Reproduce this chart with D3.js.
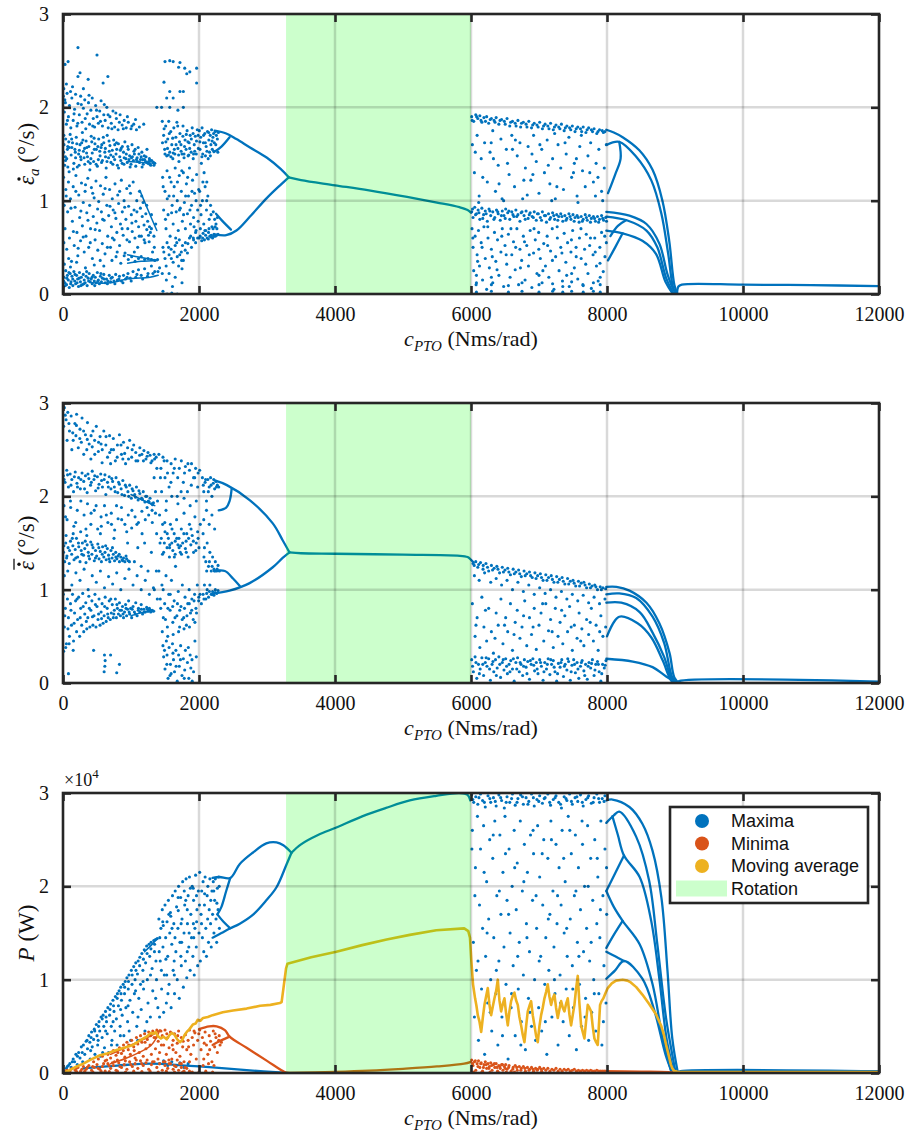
<!DOCTYPE html>
<html><head><meta charset="utf-8">
<script src="https://cdn.jsdelivr.net/npm/d3@7/dist/d3.min.js"></script>
<style>
body{margin:0;background:#fff;}
</style></head>
<body><svg id="fig" width="917" height="1132"></svg>
<script>
// ---- axes ----
const cTicks = [0,2000,4000,6000,8000,10000,12000];
const yTicks = [0,1,2,3];
const rotationRange = [3280, 6000];
const legendLabels = ["Maxima","Minima","Moving average","Rotation"];

// ---- panel 1: amplitude rate maxima ----
const rateScatter = [
[10,1.52],[25,1.38],[40,1.66],[55,1.45],[70,1.58],[90,1.31],[105,1.71],[120,1.49],[140,1.62],[160,1.40],[175,1.55],[195,1.68],[210,1.36],[230,1.50],[250,1.60],[265,1.44],[285,1.73],[300,1.53],[320,1.39],[340,1.64],[360,1.47],[380,1.58],[395,1.33],[415,1.69],[430,1.51],[450,1.42],[470,1.61],[490,1.55],[505,1.37],[525,1.66],[545,1.48],[560,1.57],[580,1.43],[600,1.62],[615,1.52],[635,1.35],[650,1.70],[670,1.46],[690,1.59],[705,1.41],[725,1.54],[745,1.65],[760,1.44],[780,1.50],[800,1.38],[815,1.61],[835,1.47],[855,1.56],[870,1.40],[890,1.52],[910,1.63],[925,1.45],[945,1.41],[960,1.55],[980,1.48],[1000,1.39],[1015,1.60],[1035,1.43],[1050,1.50],[1070,1.37],[1090,1.46],[1105,1.57],[1125,1.41],[1140,1.44],[1160,1.52],[1180,1.39],[1195,1.48],[1215,1.42],[1235,1.55],[1250,1.40],[1270,1.45],[1290,1.38],[1305,1.43],[1330,1.41],[1350,1.40],
[15,1.60],[35,1.47],[65,1.55],[85,1.63],[130,1.57],[185,1.46],[240,1.54],[275,1.62],[310,1.46],[350,1.57],[410,1.45],[460,1.55],[520,1.44],[570,1.60],[625,1.47],[680,1.53],[740,1.47],[790,1.55],[850,1.43],[900,1.46],[970,1.44],[1020,1.47],[1080,1.44],[1150,1.47],[1200,1.44],[1260,1.42],
[5,2.12],[20,1.95],[35,2.05],[50,1.82],[60,2.15],[80,1.9],[95,2.02],[115,1.78],[130,2.1],[150,1.86],[170,1.98],[185,2.14],[205,1.8],[220,2.04],[240,1.92],[260,2.12],[280,1.84],[300,1.99],[320,2.08],[335,1.77],[355,1.93],[375,2.05],[390,1.82],[410,1.97],[430,2.1],[445,1.88],[465,1.79],[480,2.02],[500,1.9],[520,1.83],[540,1.96],[560,2.07],[580,1.8],[600,1.92],[620,1.86],[645,2.0],[665,1.78],[690,1.9],[710,1.83],[735,1.96],[760,1.79],[785,1.88],[810,1.76],[840,1.92],[870,1.81],[900,1.86],[930,1.78],[960,1.84],[1000,1.77],[1040,1.82],[1080,1.76],
[220,2.64],[500,2.56],[75,2.49],[30,2.46],[250,2.37],[220,2.33],[660,2.33],[590,2.26],[370,2.3],[50,2.25],[12,2.2],[140,2.22],[300,2.2],
[1500,2.49],[1570,2.5],[1620,2.49],[1720,2.48],[1700,2.43],[1790,2.42],[1865,2.38],[1965,2.42],[1820,2.36],[1485,2.27],[1965,2.26],[1570,2.17],[1720,2.17],[1770,2.17],[1525,2.1],[1620,2.1],[1690,1.97],[1770,2.0],[1450,2.0],[1380,2.0],[1570,2.0],
[8,1.25],[18,0.95],[30,0.7],[42,1.12],[55,0.48],[68,0.88],[80,1.2],[95,0.6],[110,1.02],[125,0.35],[138,0.78],[150,1.15],[165,0.52],[178,0.93],[190,1.27],[205,0.66],[218,0.41],[232,1.06],[245,0.82],[258,0.57],[272,1.19],[285,0.73],[298,0.98],[312,0.45],[325,1.1],[338,0.62],[350,0.87],[365,1.24],[378,0.5],[392,0.95],[405,0.7],[418,1.14],[432,0.38],[445,0.83],[458,1.03],[472,0.58],[485,1.21],[498,0.76],[512,0.47],[525,0.99],[538,0.68],[552,1.16],[565,0.88],[578,0.54],[592,1.07],[605,0.79],[618,0.43],[632,1.25],[645,0.95],[658,0.62],[672,0.84],[685,1.12],[698,0.5],[712,0.72],[725,1.02],[738,0.9],[752,0.58],[765,1.18],[778,0.81],[792,0.66],[805,1.06],[818,0.97],[832,0.52],[845,0.75],[858,1.22],[872,0.88],[885,0.63],[898,1.0],[912,0.44],[925,0.8],[938,1.13],[952,0.7],[965,0.94],[978,0.56],[992,1.08],[1005,0.85],[1018,0.67],[1032,1.2],[1045,0.9],[1058,0.6],[1072,0.78],[1085,1.0],[1098,0.5],[1112,0.72],[1125,1.1],[1138,0.92],[1152,0.62],[1165,0.83],[1178,0.98],[1192,0.74],[1205,0.55],[1218,0.86],[1232,0.69],[1245,0.78],[1258,0.63],[1272,0.72],[1285,0.66],[1300,0.7],
[720,0.36],[780,0.4],[850,0.33],[900,0.41],[960,0.37],[1010,0.4],[1060,0.35],[1110,0.38],[1150,0.4],[1200,0.37],[1250,0.38],[1300,0.37],[1350,0.36],[1390,0.37],
[5,0.08],[15,0.18],[28,0.12],[40,0.25],[52,0.1],[65,0.2],[78,0.15],[92,0.07],[105,0.22],[118,0.13],[132,0.19],[145,0.09],[160,0.24],[172,0.14],[186,0.11],[200,0.2],[215,0.16],[228,0.08],[242,0.23],[256,0.13],[270,0.18],[284,0.1],[298,0.21],[312,0.15],[326,0.12],[340,0.19],[355,0.09],[370,0.17],[385,0.22],[400,0.13],[415,0.16],[430,0.11],[445,0.2],[460,0.14],[475,0.18],[490,0.12],[505,0.23],[520,0.15],[535,0.11],[550,0.19],[565,0.13],[580,0.17],[600,0.21],[620,0.12],[640,0.16],[660,0.14],[680,0.2],[700,0.13],[725,0.18],[750,0.14],[775,0.21],[800,0.15],[830,0.19],[860,0.14],[890,0.2],[920,0.16],[955,0.22],[990,0.17],[1030,0.24],[1070,0.18],[1110,0.26],[1150,0.2],[1200,0.27],[1250,0.22],[1300,0.3],[1350,0.24],[1420,0.28],[1460,0.22],
[20,0.32],[110,0.29],[200,0.34],[330,0.28],[460,0.31],[600,0.3],
[1460,1.85],[1480,1.7],[1495,1.55],[1510,1.8],[1525,1.48],[1540,1.66],[1555,1.85],[1570,1.52],[1585,1.74],[1600,1.6],[1615,1.45],[1630,1.78],[1645,1.5],[1660,1.68],[1675,1.84],[1690,1.56],[1705,1.42],[1720,1.72],[1735,1.6],[1750,1.5],[1765,1.8],[1780,1.46],[1795,1.65],[1810,1.55],[1825,1.75],[1840,1.48],[1855,1.62],[1870,1.7],[1885,1.52],[1900,1.78],[1915,1.45],[1930,1.6],[1945,1.69],[1960,1.5],[1975,1.76],[1990,1.56],[1500,1.5],[1550,1.49],[1620,1.51],[1700,1.49],[1780,1.5],[1850,1.49],[1920,1.5],
[1465,1.25],[1480,0.9],[1500,1.1],[1515,0.7],[1530,1.32],[1545,0.85],[1560,1.05],[1575,0.62],[1590,1.2],[1605,0.95],[1620,0.75],[1635,1.15],[1650,1.35],[1665,0.88],[1680,1.0],[1695,0.68],[1710,1.27],[1725,0.92],[1740,1.1],[1755,0.78],[1770,1.3],[1785,0.98],[1800,0.7],[1815,1.18],[1830,0.86],[1845,1.05],[1860,1.35],[1875,0.75],[1890,0.95],[1905,1.22],[1920,0.82],[1935,1.08],[1950,0.66],[1965,1.28],[1980,0.9],[1995,1.12],
[1470,0.5],[1500,0.38],[1530,0.55],[1560,0.42],[1590,0.48],[1620,0.34],[1650,0.52],[1680,0.4],[1710,0.58],[1740,0.45],[1770,0.36],[1800,0.55],[1830,0.44],[1860,0.6],[1890,0.5],[1920,0.58],[1950,0.55],[1980,0.6],
[1470,0.03],[1530,0.0],[1600,0.01],[1680,0.0],[1750,0.12],[1750,0.27],[1745,0.36],[1520,0.15],[1560,0.22],[1610,0.08],[1650,0.18],[1700,0.3],
[2005,1.75],[2015,1.55],[2025,1.68],[2035,1.4],[2045,1.78],[2055,1.5],[2065,1.62],[2075,1.3],[2085,1.72],[2095,1.48],[2105,1.58],[2115,1.2],[2125,1.74],[2135,1.45],[2145,1.65],[2155,1.52],[2165,1.7],[2175,1.6],[2185,1.76],[2195,1.55],[2205,1.68],[2215,1.72],[2225,1.62],[2240,1.74],[2255,1.7],[2270,1.66],[2285,1.73],
[2010,1.1],[2030,0.85],[2050,1.0],[2070,0.75],[2090,1.15],[2110,0.9],[2130,1.05],[2150,0.8],[2170,0.95],[2190,0.72],[2210,0.88],[2230,0.8],[2250,0.75],[2270,0.82],
[2005,0.6],[2020,0.7],[2040,0.57],[2060,0.65],[2080,0.58],[2100,0.68],[2120,0.6],[2140,0.66],[2160,0.62],[2180,0.63],[2200,0.6],[2220,0.64],[2240,0.62],[2260,0.63],[2280,0.64],
[6010,1.9],[6040,1.85],[6070,1.92],[6100,1.88],[6130,1.91],[6160,1.84],[6190,1.89],[6230,1.9],[6260,1.83],[6300,1.88],[6340,1.86],[6370,1.89],[6410,1.82],[6450,1.87],[6490,1.85],[6530,1.88],[6570,1.8],[6610,1.85],[6650,1.83],[6690,1.86],[6730,1.79],[6770,1.84],[6810,1.82],[6850,1.85],[6890,1.78],[6930,1.83],[6970,1.81],[7010,1.84],[7050,1.77],[7090,1.82],[7130,1.8],[7170,1.83],[7210,1.76],[7250,1.81],[7290,1.79],[7330,1.82],[7370,1.75],[7410,1.8],[7450,1.78],[7490,1.8],[7530,1.74],[7570,1.79],[7610,1.77],[7650,1.79],[7690,1.73],[7730,1.78],[7770,1.76],[7810,1.77],[7850,1.72],[7890,1.76],[7930,1.75],[7970,1.74],
[6020,1.6],[6050,1.3],[6090,1.7],[6120,1.05],[6150,1.45],[6200,1.62],[6240,1.2],[6280,1.52],[6320,1.75],[6360,1.1],[6400,1.38],[6440,1.66],[6480,1.0],[6520,1.55],[6560,1.28],[6600,1.7],[6640,1.15],[6680,1.48],[6720,1.62],[6760,1.02],[6800,1.35],[6840,1.58],[6880,1.22],[6920,1.7],[6960,1.42],[7000,1.08],[7040,1.55],[7080,1.3],[7120,1.65],[7160,1.18],[7200,1.45],[7240,1.02],[7280,1.6],[7320,1.35],[7360,1.12],[7400,1.5],[7440,1.68],[7480,1.25],[7520,1.4],[7560,1.05],[7600,1.58],[7640,1.32],[7680,1.15],[7720,1.48],[7760,1.62],[7800,1.2],[7840,1.4],[7880,1.55],[7920,1.1],[7960,1.35],[7990,1.6],[6330,1.45],[6610,1.55],[6910,1.28],[7230,1.72],[7550,1.45],[7830,1.05],
[6010,0.88],[6030,0.82],[6055,0.93],[6080,0.86],[6105,0.9],[6130,0.8],[6160,0.92],[6185,0.85],[6210,0.89],[6240,0.78],[6265,0.91],[6290,0.84],[6320,0.88],[6350,0.82],[6375,0.9],[6400,0.86],[6430,0.79],[6460,0.89],[6485,0.84],[6510,0.91],[6540,0.87],[6570,0.8],[6600,0.88],[6630,0.83],[6660,0.9],[6690,0.85],[6720,0.78],[6750,0.88],[6780,0.84],[6810,0.89],[6840,0.81],[6870,0.87],[6900,0.83],[6930,0.88],[6960,0.79],[6990,0.86],[7020,0.82],[7050,0.88],[7080,0.84],[7110,0.77],[7140,0.86],[7170,0.82],[7200,0.87],[7230,0.8],[7260,0.85],[7290,0.83],[7320,0.86],[7350,0.78],[7380,0.84],[7410,0.81],[7440,0.86],[7470,0.8],[7500,0.85],[7530,0.82],[7560,0.84],[7590,0.77],[7620,0.83],[7650,0.8],[7680,0.85],[7710,0.79],[7740,0.84],[7770,0.81],[7800,0.83],[7830,0.78],[7860,0.83],[7890,0.8],[7920,0.84],[7950,0.79],[7980,0.82],
[6015,0.7],[6030,0.5],[6040,0.25],[6060,0.62],[6075,0.1],[6090,0.42],[6110,0.68],[6125,0.3],[6150,0.55],[6170,0.15],[6190,0.72],[6210,0.38],[6230,0.05],[6250,0.6],[6270,0.28],[6300,0.48],[6320,0.12],[6345,0.66],[6365,0.35],[6390,0.58],[6410,0.2],[6440,0.45],[6460,0.7],[6480,0.08],[6500,0.52],[6525,0.32],[6550,0.64],[6575,0.18],[6600,0.42],[6625,0.56],[6650,0.26],[6675,0.7],[6700,0.1],[6720,0.48],[6745,0.36],[6770,0.62],[6795,0.15],[6820,0.52],[6845,0.3],[6870,0.68],[6895,0.07],[6920,0.44],[6945,0.58],[6970,0.22],[6995,0.66],[7020,0.38],[7045,0.12],[7070,0.54],[7095,0.3],[7120,0.62],[7145,0.18],[7170,0.46],[7195,0.7],[7220,0.05],[7245,0.4],[7270,0.6],[7295,0.25],[7320,0.5],[7345,0.14],[7370,0.65],[7395,0.34],[7420,0.55],[7445,0.08],[7470,0.45],[7495,0.68],[7520,0.28],[7545,0.5],[7570,0.16],[7595,0.6],[7620,0.38],[7645,0.1],[7670,0.48],[7695,0.64],[7720,0.22],[7745,0.52],[7770,0.06],[7795,0.42],[7820,0.6],[7845,0.3],[7870,0.14],[7895,0.5],[7920,0.66],[7945,0.24],[7970,0.4],[7990,0.55],
[6080,0.02],[6080,0.12],[6080,0.2],[6300,0.03],[6300,0.1],[6300,0.18],[6550,0.02],[6550,0.09],[6750,0.03],[6750,0.12],[7000,0.02],[7000,0.1],[7000,0.2],[7200,0.03],[7200,0.11],[7350,0.02],[7350,0.08],[7480,0.03],[7480,0.13],[7480,0.22],[7650,0.02],[7650,0.09],[7800,0.03],[7800,0.12],[7900,0.02],[7900,0.1],[7900,0.18]
];
const rateScatterFill = [
[37,1.43],[93,1.57],[152,1.34],[203,1.61],[258,1.47],[317,1.56],[371,1.42],[423,1.63],[487,1.39],[541,1.53],[593,1.68],[647,1.42],[703,1.49],[761,1.6],[817,1.35],[873,1.58],[931,1.5],[987,1.36],[1043,1.53],[1097,1.42],[1163,1.36],[1221,1.47],[1283,1.43],[1337,1.38],[13,1.7],[71,1.36],[127,1.66],[181,1.52],[237,1.38],[293,1.65],[347,1.51],[401,1.4],[457,1.67],[513,1.58],[567,1.41],[623,1.56],[677,1.64],[733,1.39],[787,1.62],[843,1.54],[897,1.39],[953,1.58],[1007,1.46],[1061,1.55],[1117,1.5],[1173,1.44],[1229,1.41],[1277,1.39],
[27,2.08],[66,1.86],[111,2.17],[163,1.93],[217,1.83],[269,2.03],[327,1.88],[383,2.13],[437,1.8],[493,1.97],[551,1.85],[607,2.03],[663,1.92],[719,1.77],[777,1.94],[829,1.84],[887,1.77],[947,1.9],[1013,1.8],[1067,1.87],[1123,1.79],[1187,1.82],
[13,0.55],[47,1.05],[83,0.38],[117,0.92],[153,0.67],[189,1.1],[223,0.49],[263,0.89],[297,0.61],[331,1.17],[367,0.79],[401,0.55],[437,1.08],[473,0.69],[509,0.91],[547,0.36],[583,0.8],[619,1.13],[653,0.5],[691,0.94],[727,0.6],[763,0.87],[797,0.45],[833,1.1],[869,0.7],[907,0.93],[941,0.58],[977,1.16],[1013,0.76],[1049,0.45],[1087,0.88],[1121,0.62],[1157,1.05],[1193,0.58],[1231,0.95],[1267,0.56],[1301,0.85],[1337,0.62],[1363,0.75],[1343,0.5],[1317,0.45],
[9,0.14],[33,0.09],[57,0.17],[87,0.23],[113,0.11],[143,0.16],[177,0.21],[207,0.12],[239,0.17],[263,0.09],[307,0.11],[347,0.24],[377,0.14],[427,0.18],[467,0.09],[513,0.14],[557,0.22],[607,0.16],[653,0.11],[707,0.17],[763,0.11],[823,0.16],[881,0.12],[943,0.18],[1003,0.14],[1087,0.21],[1171,0.16],[1243,0.19],[1323,0.22],[1397,0.24],
[1463,1.62],[1487,1.77],[1513,1.63],[1537,1.56],[1563,1.72],[1587,1.47],[1613,1.67],[1637,1.55],[1663,1.6],[1687,1.8],[1713,1.63],[1737,1.53],[1763,1.69],[1787,1.58],[1813,1.71],[1837,1.63],[1863,1.56],[1887,1.66],[1913,1.72],[1937,1.53],[1963,1.64],[1987,1.7],
[1473,1.15],[1507,0.8],[1533,1.02],[1567,1.25],[1597,0.87],[1627,1.05],[1657,0.6],[1683,1.2],[1713,0.9],[1747,1.32],[1773,0.85],[1803,1.05],[1833,1.25],[1867,0.9],[1897,1.1],[1927,0.72],[1957,1.0],[1987,0.78],
[1483,0.45],[1517,0.3],[1553,0.5],[1593,0.38],[1633,0.45],[1673,0.55],[1717,0.42],[1757,0.52],[1797,0.47],[1837,0.54],[1877,0.62],[1917,0.6],[1957,0.68],
[2013,1.63],[2043,1.47],[2067,1.7],[2093,1.62],[2117,1.53],[2143,1.73],[2167,1.48],[2193,1.64],[2217,1.53],[2247,1.6],[2277,1.52],
[2023,0.95],[2057,1.2],[2087,0.68],[2113,1.0],[2147,0.7],[2177,0.85],[2207,0.7],[2237,0.72],[2263,0.7],
[2017,0.62],[2053,0.6],[2097,0.63],[2137,0.59],[2177,0.61],[2217,0.62],
[6017,1.86],[6083,1.9],[6147,1.86],[6213,1.85],[6283,1.87],[6353,1.84],[6427,1.86],[6503,1.82],[6583,1.84],[6663,1.8],[6743,1.83],[6823,1.79],[6907,1.81],[6987,1.79],[7067,1.8],[7147,1.77],[7227,1.79],[7307,1.77],[7387,1.78],[7467,1.76],[7547,1.77],[7627,1.74],[7707,1.76],[7787,1.74],[7867,1.74],[7947,1.73],
[6063,1.52],[6173,1.25],[6297,1.62],[6413,1.18],[6537,1.4],[6653,1.65],[6777,1.22],[6897,1.5],[7013,1.6],[7137,1.38],[7263,1.15],[7383,1.62],[7507,1.3],[7623,1.7],[7747,1.3],[7867,1.25],[6113,0.98],[6457,1.02],[6827,1.06],[7187,1.0],[7573,0.98],[7937,1.0],
[6023,0.91],[6067,0.85],[6117,0.87],[6173,0.81],[6223,0.86],[6277,0.89],[6337,0.8],[6393,0.88],[6447,0.84],[6503,0.81],[6557,0.89],[6617,0.85],[6673,0.83],[6737,0.87],[6797,0.8],[6857,0.85],[6917,0.82],[6977,0.86],[7037,0.79],[7097,0.84],[7157,0.8],[7217,0.84],[7277,0.79],[7337,0.83],[7397,0.79],[7457,0.83],[7517,0.78],[7577,0.82],[7637,0.78],[7697,0.82],[7757,0.77],[7817,0.81],[7877,0.77],[7937,0.81],[7993,0.78],
[6027,0.6],[6097,0.35],[6163,0.5],[6247,0.72],[6313,0.4],[6383,0.26],[6453,0.62],[6517,0.42],[6587,0.7],[6657,0.5],[6727,0.28],[6787,0.56],[6857,0.42],[6927,0.7],[6997,0.48],[7057,0.25],[7127,0.52],[7197,0.36],[7267,0.72],[7337,0.44],[7407,0.2],[7477,0.58],[7547,0.4],[7617,0.7],[7687,0.32],[7757,0.6],[7827,0.45],[7897,0.33],[7967,0.62]
];
const rateLines = [
[[3320,1.25],[3500,1.22],[4000,1.165],[4500,1.11],[5060,1.04],[5500,0.98],[5830,0.93],[5950,0.9],[6000,0.87]],
[[2230,1.75],[2400,1.72],[2550,1.66],[2750,1.57],[3000,1.46],[3200,1.34],[3320,1.25]],
[[2230,0.64],[2400,0.63],[2550,0.68],[2750,0.83],[3000,1.03],[3200,1.17],[3320,1.25]],
[[2220,1.52],[2330,1.58],[2450,1.68]],
[[2250,0.86],[2360,0.77],[2470,0.69]],
[[7990,1.76],[8100,1.73],[8230,1.68],[8475,1.54],[8670,1.33],[8815,1.0],[8915,0.57],[8990,0.1],[9035,0.0]],
[[8000,1.6],[8180,1.63],[8430,1.47],[8650,1.22],[8800,0.86],[8900,0.43],[8980,0.05],[9030,0.0]],
[[8015,1.08],[8120,1.28],[8200,1.45],[8180,1.63]],
[[7990,0.88],[8330,0.84],[8580,0.75],[8770,0.54],[8890,0.21],[8990,0.03],[9030,0.0]],
[[7990,0.83],[8290,0.79],[8580,0.68],[8740,0.5],[8870,0.17],[8980,0.0]],
[[7990,0.68],[8230,0.65],[8520,0.57],[8720,0.43],[8860,0.13],[8970,0.0]],
[[8015,0.36],[8120,0.5],[8230,0.65]],
[[8050,0.62],[8160,0.73],[8280,0.79]],
[[9030,0.0],[9050,0.08],[9100,0.1],[10000,0.1],[11000,0.095],[12000,0.085]]
];
const rateChaosLines = [
[[420,0.12],[700,0.12],[940,0.16],[1280,0.18],[1400,0.2]],
[[950,0.42],[1150,0.39],[1390,0.36]],
[[950,0.33],[1150,0.35],[1390,0.36]],
[[950,1.42],[1150,1.41],[1350,1.4]],
[[1130,1.11],[1250,0.9],[1380,0.68]]
];

// ---- panel 2: mean rate maxima ----
const meanRateScatter = [
[20,2.95],[45,2.82],[70,2.9],[95,2.7],[120,2.86],[150,2.6],[175,2.78],[200,2.88],[225,2.52],[250,2.72],[280,2.84],[305,2.45],[330,2.66],[360,2.79],[385,2.56],[410,2.4],[440,2.7],[465,2.6],[490,2.75],[520,2.48],[545,2.64],[575,2.36],[600,2.7],[630,2.55],[655,2.42],[685,2.65],[710,2.5],[740,2.62],[770,2.38],[800,2.55],[830,2.66],[860,2.45],[890,2.58],[920,2.35],[950,2.52],[980,2.6],[1010,2.42],[1040,2.55],[1070,2.47],[1100,2.38],[1130,2.52],[1160,2.45],[1190,2.49],[1220,2.4],[1250,2.47],[1280,2.44],[1310,2.38],[1340,2.45],[1370,2.42],[10,2.75],[60,2.6],[130,2.5],[190,2.65],[270,2.58],[350,2.5],[430,2.53],[560,2.56],[700,2.35],[880,2.4],
[5,2.22],[30,2.15],[55,2.28],[80,2.1],[105,2.24],[130,2.18],[155,2.05],[180,2.26],[205,2.14],[230,2.2],[255,2.08],[280,2.25],[305,2.16],[330,2.22],[355,2.04],[380,2.19],[405,2.12],[430,2.27],[455,2.18],[480,2.06],[505,2.21],[530,2.13],[555,2.24],[580,2.1],[605,2.18],[630,2.02],[655,2.15],[680,2.21],[705,2.08],[730,2.16],[755,2.1],[780,2.2],[805,2.04],[830,2.13],[855,2.08],[880,2.17],[905,2.01],[930,2.1],[955,2.05],[980,2.12],[1005,1.98],[1030,2.06],[1055,2.02],[1080,2.1],[1105,1.96],[1130,2.03],[1155,1.98],[1180,2.05],[1205,1.94],[1230,2.0],[1255,1.95],[1280,1.98],[1305,1.92],[1330,1.93],
[15,1.9],[60,1.75],[110,1.95],[160,1.68],[210,1.85],[260,1.62],[310,1.8],[360,1.92],[410,1.7],[460,1.85],[510,1.65],[560,1.78],[610,1.9],[660,1.72],[710,1.82],[760,1.64],[810,1.76],[860,1.88],[910,1.7],[960,1.8],[1010,1.66],[1060,1.78],[1110,1.72],[1160,1.84],[1210,1.75],[1260,1.8],[1310,1.85],[1360,1.82],[1340,2.2],[1360,2.05],[1380,2.3],[1390,1.95],
[8,1.4],[25,1.3],[40,1.5],[58,1.36],[75,1.45],[92,1.28],[110,1.52],[128,1.38],[145,1.47],[162,1.32],[180,1.43],[198,1.55],[215,1.35],[232,1.46],[250,1.3],[268,1.42],[285,1.5],[302,1.37],[320,1.44],[338,1.29],[355,1.48],[372,1.4],[390,1.33],[408,1.51],[425,1.38],[442,1.45],[460,1.31],[478,1.42],[495,1.36],[512,1.49],[530,1.33],[548,1.41],[565,1.3],[582,1.46],[600,1.35],[618,1.4],[635,1.32],[652,1.44],[670,1.37],[688,1.3],[705,1.42],[722,1.34],[740,1.38],[758,1.31],[775,1.4],[792,1.33],[810,1.36],[830,1.3],[850,1.35],[870,1.32],[890,1.34],[910,1.3],[935,1.33],[960,1.31],
[20,1.15],[70,1.2],[130,1.05],[190,1.18],[250,1.1],[310,1.22],[370,1.0],[430,1.15],[490,1.08],[550,1.2],[610,1.02],[670,1.14],[730,1.06],[790,1.18],[850,1.0],[910,1.12],[970,1.22],[1030,1.05],[1090,1.15],[1150,1.0],[1210,1.1],[1270,0.95],[1330,1.02],[45,1.58],[150,1.6],[350,1.58],[550,1.6],[750,1.55],[950,1.5],[1100,1.45],[1200,1.5],[1300,1.4],[1050,1.3],[1150,1.25],[1250,1.2],
[5,0.95],[20,0.6],[35,0.8],[50,0.42],[65,0.9],[80,0.7],[95,0.5],[110,0.85],[125,0.62],[140,0.95],[155,0.45],[170,0.75],[185,0.88],[200,0.55],[215,0.68],[230,0.92],[245,0.5],[260,0.8],[275,0.62],[290,0.96],[305,0.55],[320,0.74],[335,0.86],[350,0.58],[365,0.7],[380,0.93],[395,0.6],[410,0.78],[425,0.88],[440,0.62],[455,0.72],[470,0.95],[485,0.6],[500,0.82],[515,0.68],[530,0.9],[545,0.62],[560,0.76],[575,0.85],[590,0.64],[605,0.72],[620,0.92],[635,0.66],[650,0.8],[665,0.7],[680,0.88],[695,0.68],[710,0.75],[725,0.84],[740,0.7],[755,0.78],[770,0.9],[785,0.7],[800,0.8],[815,0.74],[830,0.86],[845,0.72],[860,0.78],[875,0.82],[890,0.7],[905,0.76],[920,0.84],[935,0.72],[950,0.79],[965,0.88],[980,0.74],[995,0.8],[1010,0.7],[1030,0.82],[1050,0.76],[1070,0.86],[1090,0.72],[1110,0.8],[1130,0.76],[1150,0.84],[1170,0.74],[1190,0.79],[1210,0.76],[1230,0.81],[1250,0.77],[1270,0.8],[1290,0.76],[1310,0.78],[1330,0.77],
[10,0.34],[40,0.38],[90,0.42],[150,0.35],[610,0.3],[615,0.18],[605,0.12],[620,0.24],[790,0.11],[80,0.1],[830,0.2],[450,0.35],[700,0.3],
[1410,2.45],[1440,2.3],[1470,2.42],[1500,2.2],[1530,2.38],[1560,2.1],[1590,2.35],[1620,2.25],[1650,2.4],[1680,2.0],[1710,2.3],[1740,2.38],[1770,2.15],[1800,2.32],[1830,2.05],[1860,2.28],[1890,2.35],[1920,2.2],[1950,2.3],[1980,2.1],[2010,2.28],[1450,2.05],[1520,1.95],[1600,2.0],[1690,1.92],[1780,1.98],[1870,1.9],[1960,1.95],
[1420,1.8],[1445,1.55],[1465,1.7],[1480,1.4],[1500,1.62],[1515,1.85],[1530,1.45],[1550,1.55],[1565,1.35],[1580,1.7],[1600,1.5],[1615,1.42],[1635,1.6],[1650,1.38],[1670,1.75],[1690,1.48],[1705,1.55],[1725,1.4],[1740,1.65],[1760,1.5],[1780,1.82],[1800,1.44],[1820,1.6],[1840,1.35],[1860,1.7],[1880,1.48],[1900,1.58],[1920,1.4],[1940,1.78],[1960,1.5],[1980,1.62],[2000,1.45],[2020,1.7],[1490,1.5],[1570,1.48],[1650,1.52],[1730,1.47],[1810,1.52],
[1410,1.2],[1430,0.9],[1455,1.05],[1475,0.7],[1495,0.85],[1515,1.15],[1535,0.6],[1555,0.95],[1575,0.78],[1595,1.1],[1615,0.65],[1635,0.88],[1655,1.25],[1675,0.72],[1695,0.98],[1715,0.6],[1735,0.82],[1755,1.05],[1775,0.7],[1795,0.92],[1815,0.62],[1835,0.85],[1855,1.0],[1875,0.75],[1895,0.9],[1915,0.68],[1935,0.95],[1955,0.8],[1975,1.05],[1995,0.88],[2015,0.95],[2035,0.85],[1460,0.55],[1540,0.5],[1620,0.52],[1700,0.55],[1780,0.58],[1860,0.6],[1940,0.65],
[1470,0.4],[1480,0.28],[1500,0.15],[1520,0.45],[1530,0.3],[1545,0.05],[1560,0.38],[1580,0.2],[1590,0.1],[1610,0.42],[1625,0.25],[1640,0.12],[1660,0.35],[1680,0.02],[1700,0.3],[1710,0.18],[1730,0.4],[1750,0.08],[1770,0.26],[1790,0.14],[1800,0.35],[1830,0.22],[1850,0.05],[1870,0.3],[1880,0.16],[1900,0.02],[1920,0.12],[1940,0.45],[1960,0.28],
[2050,2.2],[2070,2.05],[2090,2.15],[2110,1.95],[2130,2.18],[2150,2.1],[2170,2.2],[2190,2.0],[2210,2.14],[2230,2.08],[2250,2.16],[2270,2.12],[2290,2.1],
[2060,1.6],[2080,1.45],[2100,1.3],[2120,1.5],[2140,1.25],[2160,1.4],[2180,1.2],[2200,1.35],[2220,1.22],[2240,1.3],[2260,1.2],[2280,1.26],[2300,1.2],
[2060,0.95],[2080,1.05],[2100,0.9],[2120,1.0],[2140,0.92],[2160,1.05],[2180,0.95],[2200,0.98],[2220,0.94],[2240,1.0],[2260,0.96],[2280,0.99],
[2070,1.75],[2110,1.85],[2150,1.7],[2190,1.8],[2230,1.65],
[6030,1.28],[6070,1.3],[6100,1.24],[6140,1.29],[6180,1.26],[6220,1.28],[6260,1.2],[6300,1.26],[6340,1.23],[6380,1.25],[6420,1.18],[6460,1.24],[6500,1.21],[6540,1.23],[6580,1.16],[6620,1.22],[6660,1.19],[6700,1.21],[6740,1.14],[6780,1.2],[6820,1.17],[6860,1.19],[6900,1.13],[6940,1.18],[6980,1.15],[7020,1.17],[7060,1.1],[7100,1.16],[7140,1.13],[7180,1.15],[7220,1.08],[7260,1.14],[7300,1.11],[7340,1.13],[7380,1.06],[7420,1.12],[7460,1.09],[7500,1.1],[7540,1.04],[7580,1.09],[7620,1.07],[7660,1.08],[7700,1.02],[7740,1.06],[7780,1.04],[7820,1.05],[7860,1.0],[7900,1.03],[7940,1.02],[7980,1.01],
[6050,1.15],[6120,1.1],[6200,1.18],[6290,1.08],[6370,1.12],[6450,1.05],[6530,1.1],[6610,1.0],[6690,1.08],[6770,0.98],[6850,1.05],[6930,0.95],[7010,1.02],[7090,0.96],[7170,1.0],[7250,0.92],[7330,0.98],[7410,0.9],[7490,0.95],[7570,0.88],[7650,0.94],[7730,0.86],[7810,0.92],[7890,0.85],[7970,0.9],
[6020,0.85],[6060,0.5],[6090,0.7],[6130,0.38],[6160,0.92],[6190,0.6],[6230,0.45],[6260,0.8],[6300,0.55],[6330,0.32],[6370,0.75],[6400,0.62],[6440,0.9],[6470,0.42],[6510,0.7],[6540,0.55],[6580,0.85],[6610,0.35],[6650,0.65],[6680,0.78],[6720,0.48],[6750,0.6],[6790,0.88],[6820,0.4],[6860,0.7],[6890,0.52],[6930,0.8],[6960,0.36],[7000,0.62],[7030,0.75],[7070,0.45],[7100,0.85],[7140,0.56],[7170,0.68],[7210,0.38],[7240,0.8],[7280,0.5],[7310,0.65],[7350,0.42],[7380,0.72],[7420,0.55],[7450,0.82],[7490,0.35],[7520,0.62],[7560,0.48],[7590,0.75],[7630,0.58],[7660,0.4],[7700,0.68],[7730,0.52],[7770,0.8],[7800,0.45],[7840,0.62],[7870,0.35],[7910,0.72],[7940,0.5],[7980,0.6],
[6010,0.25],[6035,0.12],[6060,0.28],[6085,0.05],[6110,0.2],[6135,0.15],[6160,0.27],[6185,0.08],[6210,0.22],[6235,0.18],[6260,0.26],[6285,0.03],[6310,0.2],[6335,0.12],[6360,0.25],[6385,0.16],[6410,0.28],[6435,0.06],[6460,0.22],[6485,0.14],[6510,0.26],[6535,0.1],[6560,0.2],[6585,0.24],[6610,0.15],[6635,0.02],[6660,0.22],[6685,0.27],[6710,0.12],[6735,0.2],[6760,0.08],[6785,0.25],[6810,0.17],[6835,0.23],[6860,0.04],[6885,0.2],[6910,0.26],[6935,0.13],[6960,0.22],[6985,0.1],[7010,0.25],[7035,0.18],[7060,0.03],[7085,0.22],[7110,0.15],[7135,0.26],[7160,0.09],[7185,0.2],[7210,0.24],[7235,0.12],[7260,0.02],[7285,0.21],[7310,0.17],[7335,0.25],[7360,0.07],[7385,0.2],[7410,0.14],[7435,0.23],[7460,0.03],[7485,0.19],[7510,0.25],[7535,0.11],[7560,0.22],[7585,0.05],[7610,0.18],[7635,0.24],[7660,0.13],[7685,0.2],[7710,0.04],[7735,0.22],[7760,0.16],[7785,0.25],[7810,0.08],[7835,0.2],[7860,0.23],[7885,0.12],[7910,0.02],[7935,0.2],[7960,0.16],[7985,0.24]
];
const meanRateScatterFill = [
[33,2.87],[87,2.78],[143,2.68],[197,2.76],[247,2.62],[303,2.7],[357,2.61],[413,2.65],[467,2.45],[523,2.58],[577,2.5],[633,2.64],[687,2.47],[743,2.5],[797,2.42],[853,2.55],[907,2.46],[963,2.4],[1017,2.5],[1073,2.38],[1127,2.44],[1183,2.38],[1237,2.43],[1293,2.36],[1347,2.4],
[17,2.18],[67,2.23],[117,2.12],[167,2.21],[213,2.1],[263,2.18],[317,2.08],[367,2.24],[417,2.15],[467,2.22],[517,2.09],[567,2.17],[617,2.23],[667,2.1],[717,2.19],[767,2.05],[817,2.15],[867,2.02],[917,2.12],[967,2.0],[1017,2.08],[1067,1.99],[1117,2.06],[1167,1.97],[1217,2.0],[1267,1.94],[1317,1.91],
[13,1.47],[53,1.34],[97,1.42],[137,1.55],[187,1.34],[227,1.5],[277,1.38],[327,1.52],[377,1.36],[427,1.48],[477,1.34],[527,1.45],[577,1.38],[627,1.47],[677,1.33],[727,1.45],[777,1.35],[827,1.38],[877,1.31],[927,1.36],[977,1.3],
[27,0.72],[73,0.58],[117,0.78],[163,0.64],[207,0.9],[253,0.7],[297,0.82],[343,0.66],[387,0.8],[433,0.71],[477,0.84],[523,0.74],[567,0.69],[613,0.82],[657,0.74],[703,0.9],[747,0.74],[793,0.84],[837,0.78],[883,0.74],[927,0.8],[973,0.76],[1017,0.79],[1063,0.74],[1107,0.78],[1153,0.79],[1197,0.76],[1243,0.79],[1287,0.78],
[37,1.78],[113,1.88],[187,1.72],[263,1.95],[337,1.65],[413,1.82],[487,1.9],[563,1.68],[637,1.8],[713,1.7],[787,1.9],[863,1.75],[937,1.62],[1013,1.85],[1087,1.7],[1163,1.6],[1237,1.88],[1313,1.72],[1377,1.6],[1373,1.2],[1343,1.0],[1387,0.9],
[1433,2.2],[1487,2.38],[1537,2.25],[1587,2.15],[1637,2.3],[1687,2.2],[1737,2.05],[1787,2.25],[1837,2.35],[1887,2.12],[1937,2.2],[1987,2.25],
[1427,1.5],[1463,1.38],[1497,1.72],[1533,1.6],[1567,1.45],[1603,1.65],[1637,1.35],[1673,1.55],[1707,1.45],[1743,1.38],[1777,1.6],[1813,1.4],[1847,1.55],[1883,1.65],[1917,1.52],[1953,1.42],[1987,1.55],
[1437,0.8],[1473,1.0],[1507,0.68],[1543,0.8],[1577,0.95],[1613,0.82],[1647,0.7],[1683,0.85],[1717,0.78],[1753,0.68],[1787,0.8],[1823,0.72],[1857,0.85],[1893,0.78],[1927,0.88],[1963,0.75],[1997,0.92],
[1493,0.35],[1527,0.2],[1573,0.08],[1617,0.32],[1663,0.18],[1727,0.25],[1783,0.05],[1843,0.38],[1897,0.25],
[2063,2.12],[2097,2.18],[2137,2.05],[2177,2.12],[2217,2.18],[2257,2.1],[2073,1.35],[2113,1.2],[2153,1.3],[2193,1.25],[2233,1.2],[2267,1.22],[2073,0.9],[2113,0.96],[2153,0.98],[2197,0.95],[2237,0.97],
[6047,1.26],[6113,1.27],[6177,1.22],[6243,1.24],[6317,1.21],[6397,1.22],[6477,1.19],[6557,1.19],[6637,1.17],[6717,1.17],[6797,1.15],[6877,1.15],[6957,1.12],[7037,1.13],[7117,1.1],[7197,1.11],[7277,1.08],[7357,1.09],[7437,1.06],[7517,1.07],[7597,1.04],[7677,1.05],[7757,1.02],[7837,1.03],[7917,1.0],
[6073,0.62],[6213,0.78],[6353,0.48],[6493,0.62],[6633,0.52],[6773,0.72],[6913,0.6],[7053,0.85],[7193,0.55],[7333,0.78],[7473,0.6],[7613,0.45],[7753,0.65],[7893,0.55],
[6023,0.18],[6073,0.22],[6123,0.1],[6173,0.2],[6223,0.27],[6273,0.15],[6323,0.23],[6373,0.08],[6423,0.2],[6473,0.25],[6523,0.18],[6573,0.12],[6623,0.26],[6673,0.15],[6723,0.22],[6773,0.18],[6823,0.1],[6873,0.24],[6923,0.19],[6973,0.15],[7023,0.22],[7073,0.12],[7123,0.2],[7173,0.25],[7223,0.17],[7273,0.1],[7323,0.22],[7373,0.18],[7423,0.26],[7473,0.12],[7523,0.2],[7573,0.15],[7623,0.22],[7673,0.08],[7723,0.18],[7773,0.21],[7823,0.14],[7873,0.2],[7923,0.1],[7973,0.19]
];
const meanRateLines = [
[[3330,1.4],[3500,1.39],[4000,1.385],[5000,1.375],[5800,1.365],[5950,1.35],[6000,1.32],[6040,1.29]],
[[2230,2.17],[2410,2.12],[2745,1.96],[3085,1.71],[3230,1.53],[3330,1.4]],
[[2200,0.96],[2450,0.99],[2745,1.07],[3085,1.24],[3230,1.34],[3330,1.4]],
[[2290,1.85],[2400,1.88],[2450,1.95],[2480,2.08]],
[[2220,1.2],[2380,1.2],[2500,1.12],[2600,1.04]],
[[7990,1.03],[8140,1.03],[8330,0.99],[8580,0.86],[8770,0.64],[8920,0.32],[8990,0.06],[9060,0.0]],
[[7990,0.95],[8180,0.96],[8430,0.91],[8670,0.71],[8840,0.43],[8960,0.06],[9030,0.0]],
[[7990,0.86],[8210,0.86],[8480,0.76],[8670,0.54],[8840,0.28],[8960,0.03],[9020,0.0]],
[[8000,0.5],[8180,0.71],[8450,0.64],[8650,0.49],[8820,0.24],[8950,0.02],[9010,0.0]],
[[7990,0.26],[8380,0.23],[8670,0.17],[8870,0.07],[9030,0.0]],
[[9030,0.0],[9060,0.02],[12000,0.015]]
];
const meanRateChaosLines = [
[[1000,2.02],[1200,1.95],[1350,1.9]],
[[1000,0.72],[1200,0.76],[1350,0.77]]
];

// ---- panel 3: power ----
const powerMaxScatter = [
[50,0.05],[80,0.08],[100,0.1],[120,0.06],[150,0.15],[170,0.12],[190,0.2],[210,0.09],[230,0.22],[250,0.16],[270,0.28],[290,0.12],[300,0.3],[320,0.2],[340,0.34],[360,0.26],[380,0.4],[400,0.15],[395,0.33],
[420,0.44],[430,0.28],[450,0.36],[460,0.47],[470,0.2],[490,0.52],[500,0.4],[510,0.3],[530,0.55],[540,0.45],[550,0.18],[560,0.6],[575,0.38],[590,0.62],[600,0.5],[610,0.27],[625,0.66],[640,0.55],[650,0.42],[660,0.7],[670,0.22],[685,0.62],[700,0.74],[710,0.5],[720,0.35],[735,0.78],[750,0.66],[760,0.45],[770,0.82],[785,0.58],[795,0.3],[800,0.85],
[815,0.72],[825,0.88],[840,0.5],[850,0.92],[860,0.78],[870,0.62],[885,0.95],[895,0.4],[905,0.85],[915,0.98],[925,0.7],[940,1.02],[950,0.55],[960,0.9],[970,1.05],[985,0.78],[995,0.35],[1005,1.1],[1015,0.95],[1025,0.65],[1040,1.14],[1050,0.85],[1060,1.0],[1070,1.18],[1085,0.5],[1095,1.06],[1105,1.2],[1115,0.8],[1130,1.24],[1140,0.95],[1150,0.68],[1160,1.28],[1175,1.1],[1185,0.9],[1195,1.32],[1205,0.45],[1215,1.18],[1230,1.36],[1240,1.0],[1250,0.75],[1265,1.38],[1275,1.25],[1285,0.6],[1295,1.4],[1310,1.12],[1320,0.88],[1335,1.42],[1345,1.3],[1360,1.43],[1375,1.0],[1385,1.44],[1395,0.7],[1300,0.42],[1100,0.35],
[1410,1.65],[1420,0.6],[1430,1.2],[1440,1.55],[1450,0.9],[1460,1.75],[1470,1.35],[1480,0.65],[1490,1.05],[1500,1.8],[1510,1.45],[1520,0.75],[1530,1.62],[1540,1.25],[1550,1.85],[1560,0.95],[1570,1.5],[1580,1.72],[1590,0.7],[1600,1.38],[1610,1.9],[1620,1.1],[1630,1.6],[1640,0.85],[1650,1.95],[1660,1.3],[1670,1.78],[1680,1.0],[1690,1.55],[1700,2.0],[1710,0.8],[1720,1.4],[1730,1.88],[1740,1.15],[1750,1.65],[1760,2.05],[1770,0.92],[1780,1.5],[1790,1.8],[1800,1.2],[1810,2.08],[1820,1.02],[1830,1.6],[1840,1.9],[1850,1.35],[1860,2.1],[1870,1.1],[1880,1.7],[1890,1.45],[1900,2.0],[1910,1.25],[1920,1.85],[1930,1.05],[1940,1.55],[1950,2.12],[1960,1.35],[1970,1.75],[1980,1.15],[1990,1.95],[2000,1.5],[2010,2.15],[1415,1.3],[1525,1.05],[1635,1.2],[1745,1.4],[1855,1.5],[1965,1.62],[1475,1.58],[1585,1.68],[1695,1.74],[1805,1.85],[1915,1.98],
[2020,1.2],[2030,1.7],[2040,1.95],[2050,1.45],[2060,2.05],[2070,1.3],[2080,1.8],[2090,2.1],[2100,1.55],[2110,1.25],[2120,1.9],[2130,2.0],[2140,1.4],[2150,1.75],[2160,2.08],[2170,1.6],[2180,1.35],[2190,1.95],[2200,1.7],[2210,2.05],[2220,1.5],[2230,1.85],[2240,2.08],[2250,1.65],[2260,1.4],[2270,1.98],[2280,1.75],[2290,2.1],[2300,1.55],
[1420,0.1],[1480,0.13],[1540,0.08],[1600,0.12],[1660,0.07],[1720,0.11],[1780,0.06],[1840,0.1],
[6010,2.98],[6040,2.9],[6070,2.96],[6100,2.88],[6140,2.99],[6170,2.92],[6210,2.85],[6250,2.97],[6290,2.9],[6330,2.95],[6370,2.86],[6410,2.98],[6450,2.92],[6490,2.84],[6530,2.96],[6570,2.9],[6610,2.99],[6650,2.87],[6690,2.94],[6730,2.98],[6770,2.88],[6810,2.95],[6850,2.91],[6890,2.99],[6930,2.86],[6970,2.93],[7010,2.97],[7050,2.89],[7090,2.95],[7130,2.99],[7170,2.87],[7210,2.93],[7250,2.97],[7290,2.9],[7330,2.84],[7370,2.96],[7410,2.92],[7450,2.99],[7490,2.88],[7530,2.95],[7570,2.91],[7610,2.98],[7650,2.86],[7690,2.93],[7730,2.97],[7770,2.89],[7810,2.95],[7850,2.99],[7890,2.9],[7930,2.94],[7970,2.97],
[6020,2.6],[6035,1.4],[6050,0.6],[6065,2.2],[6080,1.1],[6095,2.75],[6110,0.35],[6125,1.8],[6140,2.4],[6155,0.9],[6170,1.55],[6185,2.65],[6200,0.2],[6215,1.25],[6230,2.05],[6245,0.75],[6260,1.65],[6275,2.5],[6290,1.0],[6305,0.45],[6320,2.3],[6335,1.45],[6350,2.7],[6365,0.85],[6380,1.9],[6395,0.3],[6410,1.2],[6425,2.55],[6440,1.7],[6455,0.6],[6470,2.15],[6485,1.35],[6500,2.75],[6515,0.95],[6530,1.85],[6545,0.15],[6560,2.4],[6575,1.5],[6590,0.7],[6605,2.0],[6620,1.15],[6635,2.6],[6650,0.4],[6665,1.75],[6680,2.25],[6695,0.9],[6710,1.4],[6725,2.7],[6740,0.55],[6755,1.95],[6770,1.05],[6785,2.45],[6800,0.25],[6815,1.6],[6830,2.15],[6845,0.8],[6860,1.3],[6875,2.55],[6890,0.5],[6905,1.85],[6920,2.35],[6935,1.0],[6950,0.35],[6965,1.55],[6980,2.65],[6995,0.7],[7010,2.1],[7025,1.25],[7040,0.45],[7055,1.8],[7070,2.5],[7085,0.95],[7100,1.45],[7115,0.2],[7130,2.3],[7145,1.1],[7160,1.7],[7175,2.7],[7190,0.6],[7205,1.95],[7220,1.35],[7235,0.85],[7250,2.45],[7265,1.6],[7280,0.3],[7295,2.2],[7310,1.05],[7325,1.8],[7340,2.6],[7355,0.55],[7370,1.5],[7385,2.05],[7400,0.9],[7415,1.25],[7430,2.75],[7445,0.4],[7460,1.65],[7475,2.35],[7490,1.15],[7505,0.7],[7520,1.9],[7535,2.55],[7550,0.25],[7565,1.4],[7580,2.2],[7595,0.95],[7610,1.75],[7625,0.5],[7640,2.45],[7655,1.3],[7670,2.0],[7685,0.8],[7700,1.55],[7715,2.65],[7730,0.35],[7745,1.2],[7760,2.3],[7775,0.65],[7790,1.85],[7805,1.0],[7820,2.5],[7835,0.45],[7850,1.6],[7865,2.1],[7880,0.85],[7895,1.45],[7910,2.7],[7925,0.3],[7940,1.9],[7955,1.15],[7970,2.4],[7985,0.75],[7995,1.7]
];
const powerMaxScatterFill = [
[63,0.07],[137,0.12],[213,0.18],[283,0.22],[353,0.35],[413,0.38],[467,0.45],[523,0.5],[577,0.58],[633,0.6],[691,0.68],[743,0.72],[797,0.8],[853,0.85],[907,0.92],[963,0.98],[1017,1.05],[1073,1.1],[1127,1.15],[1183,1.22],[1237,1.28],[1293,1.33],[1347,1.38],
[407,0.24],[517,0.35],[627,0.45],[737,0.55],[847,0.68],[957,0.72],[1067,0.88],[1177,0.98],[1287,1.05],[1367,1.2],[583,0.22],[713,0.3],[843,0.4],[973,0.45],[1103,0.6],[1233,0.55],[1363,0.8],
[1423,1.45],[1467,1.62],[1513,1.22],[1557,1.7],[1603,1.55],[1647,1.45],[1693,1.88],[1737,1.6],[1783,1.95],[1827,1.75],[1873,1.98],[1917,1.6],[1963,1.9],[2007,1.8],[1447,1.1],[1543,0.85],[1637,1.05],[1733,1.25],[1827,1.3],[1923,1.45],
[2037,1.6],[2083,1.92],[2127,1.65],[2173,1.85],[2217,1.95],[2263,1.82],[2297,2.0],
[6013,2.4],[6057,1.9],[6103,1.2],[6147,0.5],[6193,2.15],[6237,1.5],[6283,0.65],[6327,2.55],[6373,1.1],[6417,1.95],[6463,0.4],[6507,2.35],[6553,1.7],[6597,0.85],[6643,2.2],[6687,1.25],[6733,0.3],[6777,2.05],[6823,1.45],[6867,0.65],[6913,2.6],[6957,1.9],[7003,1.2],[7047,2.35],[7093,0.55],[7137,1.65],[7183,2.5],[7227,1.0],[7273,1.9],[7317,0.75],[7363,2.3],[7407,1.55],[7453,2.6],[7497,0.9],[7543,1.95],[7587,1.25],[7633,2.7],[7677,0.6],[7723,2.0],[7767,1.4],[7813,0.85],[7857,2.3],[7903,1.75],[7947,0.55],[7993,2.2],
[6027,2.93],[6117,2.95],[6197,2.9],[6277,2.94],[6357,2.91],[6437,2.95],[6517,2.9],[6597,2.94],[6677,2.9],[6757,2.96],[6837,2.88],[6917,2.95],[6997,2.91],[7077,2.94],[7157,2.9],[7237,2.95],[7317,2.88],[7397,2.94],[7477,2.91],[7557,2.96],[7637,2.9],[7717,2.95],[7797,2.9],[7877,2.94],[7957,2.91]
];
const powerMinScatter = [
[20,0.01],[60,0.03],[100,0.02],[140,0.05],[180,0.03],[220,0.06],[260,0.02],[300,0.07],[340,0.04],[380,0.08],[420,0.03],[460,0.06],[500,0.09],[540,0.04],[580,0.07],[620,0.02],[660,0.1],[700,0.05],[740,0.08],[780,0.03],[820,0.11],[860,0.06],[900,0.09],[940,0.04],[980,0.12],[1020,0.07],[1060,0.1],[1100,0.05],[1140,0.13],[1180,0.08],[1220,0.11],[1260,0.04],[1300,0.09],[1340,0.12],[1380,0.06],[1420,0.1],[1460,0.03],[1500,0.08],[1540,0.05],[1580,0.1],[1620,0.04],[1660,0.07],[1700,0.03],[1740,0.06],[1780,0.02],[1820,0.05],[1860,0.02],[80,0.01],[200,0.015],[320,0.02],[440,0.01],[560,0.02],[680,0.015],[800,0.02],[920,0.01],[1040,0.02],[1160,0.015],[1280,0.02],[1400,0.01],[1520,0.02],[1640,0.01],[1760,0.01],[1900,0.01],[2000,0.01],[2100,0.02],[2200,0.01],
[450,0.12],[520,0.15],[580,0.18],[620,0.13],[660,0.2],[700,0.16],[740,0.24],[780,0.19],[800,0.14],[830,0.27],[860,0.21],[890,0.3],[910,0.17],[940,0.33],[960,0.25],[990,0.2],[1010,0.35],[1040,0.28],[1060,0.16],[1080,0.38],[1100,0.31],[1120,0.22],[1140,0.4],[1160,0.33],[1180,0.18],[1200,0.42],[1220,0.26],[1240,0.36],[1260,0.44],[1280,0.3],[1300,0.2],[1320,0.45],[1340,0.38],[1360,0.26],[1380,0.46],[1400,0.34],[1420,0.22],[1440,0.45],
[1460,0.4],[1480,0.3],[1500,0.46],[1520,0.2],[1540,0.38],[1560,0.27],[1580,0.44],[1600,0.15],[1620,0.35],[1640,0.42],[1660,0.22],[1680,0.32],[1700,0.45],[1720,0.18],[1740,0.38],[1760,0.28],[1780,0.12],[1800,0.41],[1820,0.25],[1840,0.35],[1860,0.46],[1880,0.2],[1900,0.38],[1920,0.3],[1940,0.43],[1960,0.15],[1980,0.35],[1500,0.12],[1560,0.1],[1620,0.25],[1680,0.14],[1740,0.1],[1860,0.12],
[2010,0.46],[2030,0.25],[2050,0.38],[2070,0.15],[2090,0.44],[2110,0.3],[2130,0.2],[2150,0.4],[2170,0.34],[2190,0.12],[2210,0.45],[2230,0.28],[2250,0.38],[2270,0.22],[2290,0.35],[2310,0.3],[2330,0.33],[2060,0.08],[2140,0.1],[2220,0.08],
[6010,0.14],[6030,0.08],[6050,0.12],[6070,0.03],[6090,0.1],[6110,0.13],[6130,0.06],[6150,0.11],[6170,0.02],[6190,0.09],[6210,0.12],[6230,0.05],[6250,0.1],[6270,0.07],[6290,0.11],[6310,0.03],[6330,0.09],[6350,0.06],[6370,0.1],[6390,0.02],[6410,0.08],[6430,0.05],[6450,0.09],[6470,0.03],[6490,0.07],[6510,0.09],[6530,0.04],[6560,0.08],[6590,0.02],[6620,0.06],[6650,0.08],[6680,0.03],[6710,0.07],[6740,0.05],[6770,0.07],[6800,0.02],[6830,0.06],[6860,0.04],[6890,0.06],[6920,0.02],[6950,0.05],[6980,0.04],[7010,0.06],[7040,0.02],[7070,0.05],[7100,0.03],[7130,0.05],[7160,0.02],[7190,0.04],[7220,0.03],[7250,0.05],[7280,0.02],[7310,0.04],[7340,0.02],[7370,0.04],[7400,0.03],[7430,0.04],[7460,0.02],[7490,0.03],[7520,0.04],[7550,0.02],[7580,0.03],[7610,0.02],[7640,0.03],[7670,0.02],[7700,0.03],[7730,0.02],[7760,0.03],[7790,0.02],[7820,0.02],[7850,0.03],[7880,0.02],[7910,0.02],[7940,0.02],[7970,0.02],[6040,0.01],[6160,0.01],[6280,0.01],[6400,0.01],[6520,0.01],[6640,0.01]
];
const powerMinScatterFill = [
[37,0.02],[117,0.04],[197,0.05],[277,0.04],[357,0.06],[437,0.07],[517,0.05],[597,0.1],[677,0.08],[757,0.12],[837,0.07],[917,0.13],[997,0.09],[1077,0.14],[1157,0.1],[1237,0.14],[1317,0.12],[1397,0.15],[1477,0.12],[1557,0.14],[1637,0.08],[1717,0.1],[1797,0.06],
[643,0.14],[727,0.11],[807,0.22],[887,0.24],[967,0.3],[1047,0.24],[1127,0.35],[1207,0.33],[1287,0.4],[1367,0.38],[1447,0.3],[1527,0.42],[1607,0.3],[1687,0.4],[1767,0.34],[1847,0.28],[1927,0.45],[1997,0.42],[2077,0.32],[2157,0.25],[2237,0.42],[2297,0.4],
[6023,0.1],[6063,0.13],[6103,0.07],[6143,0.1],[6183,0.06],[6223,0.09],[6263,0.05],[6303,0.08],[6343,0.1],[6383,0.06],[6423,0.07],[6463,0.09],[6503,0.05],[6553,0.06],[6613,0.04],[6673,0.06],[6733,0.03],[6793,0.05],[6853,0.03],[6913,0.04],[6973,0.03],[7033,0.04]
];
const powerMaxLines = [
[[2200,2.09],[2300,2.1],[2460,2.09],[2600,2.24],[2790,2.36],[2990,2.46],[3140,2.47],[3240,2.44],[3360,2.36]],
[[2200,1.45],[2330,1.5],[2460,1.55],[2600,1.6],[2800,1.7],[2990,1.85],[3140,1.99],[3290,2.24],[3360,2.36]],
[[2460,2.09],[2400,1.95],[2330,1.78],[2270,1.7]],
[[2270,1.7],[2360,1.62],[2460,1.55]],
[[3360,2.36],[3500,2.45],[3750,2.55],[4020,2.63],[4400,2.75],[4750,2.84],[5100,2.92],[5490,2.97],[5830,3.0],[5950,2.98],[5990,2.92]],
[[7990,2.92],[8080,2.93],[8330,2.85],[8520,2.67],[8670,2.38],[8800,1.88],[8890,1.09],[8960,0.37],[9040,0.01]],
[[7990,2.68],[8100,2.76],[8180,2.8],[8430,2.53],[8620,2.06],[8740,1.38],[8870,0.58],[9000,0.04]],
[[8080,2.75],[8160,2.55],[8250,2.33],[8480,2.1],[8650,1.63],[8770,1.01],[8880,0.35],[8990,0.0]],
[[7990,1.95],[8120,2.14],[8250,2.33]],
[[7990,1.95],[8100,1.78],[8230,1.63],[8480,1.38],[8670,0.95],[8820,0.37],[8950,0.0]],
[[7990,1.34],[8100,1.48],[8230,1.63]],
[[7990,1.01],[8120,1.1],[8250,1.2],[8520,1.01],[8700,0.66],[8860,0.2],[8960,0.0]],
[[7990,1.3],[8120,1.25],[8250,1.2]],
[[300,0.05],[800,0.08],[1300,0.1],[1800,0.08],[2200,0.06],[2700,0.03],[3300,0.0]],
[[9040,0.01],[9080,0.02],[12000,0.02]]
];
const powerMaxChaosLines = [
[[1200,1.3],[1300,1.37],[1390,1.44]]
];
const powerMinLines = [
[[2000,0.47],[2150,0.5],[2260,0.5],[2380,0.46],[2450,0.39],[2700,0.27],[3000,0.13],[3260,0.01],[3320,0.0]],
[[2200,0.3],[2300,0.34],[2450,0.39]],
[[3320,0.0],[4000,0.012],[4500,0.025],[5000,0.045],[5500,0.07],[5900,0.1],[6000,0.12]],
[[7950,0.02],[8500,0.015],[8900,0.01],[9050,0.0],[12000,0.0]]
];
const powerMinChaosLines = [
[[700,0.2],[1000,0.3],[1300,0.4],[1425,0.46]],
[[700,0.1],[1000,0.18],[1300,0.3],[1425,0.46]]
];
const powerAvg = [
[0,0],[100,0.03],[200,0.07],[300,0.1],[400,0.14],[545,0.19],[650,0.21],[800,0.25],[900,0.27],[1030,0.3],[1130,0.35],[1230,0.39],[1290,0.43],[1325,0.42],[1360,0.44],[1390,0.4],[1440,0.37],[1480,0.39],[1525,0.36],[1560,0.4],[1600,0.43],[1640,0.41],[1680,0.36],[1720,0.33],[1750,0.35],[1790,0.41],[1820,0.44],[1860,0.47],[1910,0.52],[1950,0.53],[1980,0.57],[2020,0.56],[2060,0.59],[2130,0.6],[2200,0.62],[2350,0.65],[2500,0.67],[2700,0.69],[2900,0.72],[3050,0.73],[3190,0.75],[3215,0.76],[3280,1.12],[3300,1.17],[3650,1.24],[4020,1.3],[4400,1.37],[4760,1.43],[5100,1.48],[5490,1.53],[5900,1.55],[5960,1.52],[5985,1.45],
[6005,1.2],[6030,0.95],[6060,0.8],[6080,0.72],[6100,0.62],[6125,0.55],[6150,0.44],[6175,0.6],[6198,0.73],[6222,0.82],[6247,0.91],[6270,0.74],[6296,0.62],[6320,0.71],[6345,0.8],[6370,0.88],[6394,1.0],[6418,0.78],[6443,0.66],[6468,0.74],[6492,0.8],[6516,0.64],[6541,0.51],[6565,0.66],[6590,0.77],[6615,0.83],[6639,0.86],[6663,0.78],[6688,0.73],[6712,0.6],[6737,0.51],[6761,0.41],[6786,0.33],[6810,0.5],[6835,0.66],[6860,0.72],[6884,0.77],[6908,0.62],[6933,0.51],[6957,0.4],[6982,0.33],[7006,0.5],[7031,0.62],[7055,0.7],[7080,0.8],[7105,0.87],[7129,0.95],[7153,0.82],[7178,0.73],[7202,0.8],[7227,0.84],[7251,0.7],[7276,0.59],[7300,0.68],[7325,0.77],[7350,0.7],[7374,0.66],[7398,0.74],[7423,0.8],[7447,0.63],[7472,0.51],[7496,0.62],[7521,0.73],[7545,0.9],[7570,1.04],[7594,0.75],[7619,0.51],[7643,0.44],[7668,0.37],[7692,0.55],[7717,0.73],[7741,0.7],[7766,0.66],[7790,0.5],[7815,0.37],[7840,0.33],[7864,0.3],[7880,0.5],[7898,0.73],[7920,0.77],[7947,0.8],
[7980,0.86],[8011,0.91],[8070,0.96],[8133,0.99],[8231,1.0],[8300,0.99],[8350,0.97],[8430,0.92],[8520,0.84],[8620,0.74],[8720,0.63],[8770,0.55],[8800,0.5],[8840,0.4],[8870,0.3],[8900,0.21],[8920,0.15],[8940,0.09],[8960,0.05],[8990,0.02],[9050,0.01],[12000,0.01]
];

// ---- drawing ----
const BLUE="#0072BD", ORANGE="#D95319", YELLOW="#EDB120", INK="#262626";
const SERIF="'Liberation Serif','Times New Roman',serif";
const SANS="'Liberation Sans',Arial,sans-serif";
const xLeft=63, xRight=879;
const x=d3.scaleLinear().domain([0,12000]).range([xLeft,xRight]);
const svg=d3.select("#fig").style("font-family",SERIF);

const panels=[
 {id:1, top:14, bottom:294, layers:[
   {points:rateScatter.concat(rateScatterFill), color:BLUE},
   {lines:rateChaosLines, color:BLUE, width:1.5},
   {lines:rateLines, color:BLUE, width:2.3}]},
 {id:2, top:403, bottom:683, layers:[
   {points:meanRateScatter.concat(meanRateScatterFill), color:BLUE},
   {lines:meanRateChaosLines, color:BLUE, width:1.5},
   {lines:meanRateLines, color:BLUE, width:2.3}]},
 {id:3, top:793, bottom:1073, layers:[
   {points:powerMaxScatter.concat(powerMaxScatterFill), color:BLUE},
   {lines:powerMaxChaosLines, color:BLUE, width:1.5},
   {lines:powerMaxLines, color:BLUE, width:2.3},
   {points:powerMinScatter.concat(powerMinScatterFill), color:ORANGE},
   {lines:powerMinChaosLines, color:ORANGE, width:1.5},
   {lines:powerMinLines, color:ORANGE, width:2.3},
   {lines:[powerAvg], color:YELLOW, width:2.6, straight:true}]}
];

function drawPanel(p){
  const y=d3.scaleLinear().domain([0,3]).range([p.bottom,p.top]);
  const clipId="clip"+p.id;
  svg.append("clipPath").attr("id",clipId).append("rect")
    .attr("x",xLeft).attr("y",p.top).attr("width",xRight-xLeft).attr("height",p.bottom-p.top);
  const plot=svg.append("g").attr("clip-path",`url(#${clipId})`);
  const smooth=d3.line().x(d=>x(d[0])).y(d=>y(d[1])).curve(d3.curveCatmullRom.alpha(0.5));
  const straight=d3.line().x(d=>x(d[0])).y(d=>y(d[1]));
  p.layers.forEach(L=>{
    if(L.points){
      plot.append("g").selectAll("circle").data(L.points).join("circle")
        .attr("cx",d=>x(d[0])).attr("cy",d=>y(d[1])).attr("r",1.55).attr("fill",L.color);
    }
    if(L.lines){
      plot.append("g").selectAll("path").data(L.lines).join("path")
        .attr("d",d=>(L.straight?straight:smooth)(d)).attr("fill","none")
        .attr("stroke",L.color).attr("stroke-width",L.width)
        .attr("stroke-linejoin","round").attr("stroke-linecap","round");
    }
  });
  // rotation band, translucent over the data
  plot.append("rect").attr("x",x(rotationRange[0])).attr("y",p.top)
    .attr("width",x(rotationRange[1])-x(rotationRange[0])).attr("height",p.bottom-p.top)
    .attr("fill","#00ff00").attr("fill-opacity",0.2);
  // grid on top
  const grid=svg.append("g").attr("stroke","#000").attr("stroke-opacity",0.15).attr("stroke-width",2.5);
  cTicks.slice(1,-1).forEach(c=>grid.append("line").attr("x1",x(c)).attr("x2",x(c)).attr("y1",p.top).attr("y2",p.bottom));
  yTicks.slice(1,-1).forEach(v=>grid.append("line").attr("x1",xLeft).attr("x2",xRight).attr("y1",y(v)).attr("y2",y(v)));
  // inward ticks on all four sides
  const bottomAx=d3.axisBottom(x).tickValues(cTicks).tickSizeInner(-8).tickSizeOuter(0).tickPadding(13).tickFormat(d3.format("d"));
  const topAx=d3.axisTop(x).tickValues(cTicks).tickSizeInner(-8).tickSizeOuter(0).tickFormat("");
  const leftAx=d3.axisLeft(y).tickValues(yTicks).tickSizeInner(-8).tickSizeOuter(0).tickPadding(14).tickFormat(d3.format("d"));
  const rightAx=d3.axisRight(y).tickValues(yTicks).tickSizeInner(-8).tickSizeOuter(0).tickFormat("");
  const axes=[
    svg.append("g").attr("transform",`translate(0,${p.bottom})`).call(bottomAx),
    svg.append("g").attr("transform",`translate(0,${p.top})`).call(topAx),
    svg.append("g").attr("transform",`translate(${xLeft},0)`).call(leftAx),
    svg.append("g").attr("transform",`translate(${xRight},0)`).call(rightAx)
  ];
  axes.forEach(a=>{
    a.select(".domain").remove();
    a.selectAll(".tick line").attr("stroke",INK).attr("stroke-width",2.6);
    a.selectAll(".tick text").attr("fill","#111").attr("font-size",20).style("font-family",SERIF);
  });
  axes[0].selectAll(".tick text").attr("dy","0.71em");
  svg.append("rect").attr("x",xLeft).attr("y",p.top).attr("width",xRight-xLeft).attr("height",p.bottom-p.top)
    .attr("fill","none").attr("stroke",INK).attr("stroke-width",2.6);
  // x title
  const xt=svg.append("text").attr("x",(xLeft+xRight)/2).attr("y",p.bottom+52)
    .attr("text-anchor","middle").attr("font-size",22).attr("fill","#111");
  xt.append("tspan").attr("font-style","italic").text("c");
  xt.append("tspan").attr("font-style","italic").attr("font-size",15).attr("dy",5).text("PTO");
  xt.append("tspan").attr("dy",-5).text(" (Nms/rad)");
  return y;
}

panels.forEach(drawPanel);

// y titles
function rateTitle(cy, sub, withBar){
  const g=svg.append("g").attr("transform",`translate(34,${cy}) rotate(-90)`);
  const t=g.append("text").attr("text-anchor","middle").attr("font-size",23).attr("fill","#111");
  t.append("tspan").attr("font-style","italic").text("ε");
  if(sub) t.append("tspan").attr("font-style","italic").attr("font-size",15).attr("dy",5).text(sub);
  t.append("tspan").attr("dy",sub?-5:0).text(" (°/s)");
  const n=t.node();
  const s=n.getStartPositionOfChar(0), e=n.getEndPositionOfChar(0);
  const mid=(s.x+e.x)/2+1.5;
  g.append("circle").attr("cx",mid).attr("cy",-15).attr("r",1.7).attr("fill","#111");
  if(withBar) g.append("line").attr("x1",s.x+0.5).attr("x2",e.x+2.5).attr("y1",-20).attr("y2",-20)
    .attr("stroke","#111").attr("stroke-width",1.3);
}
rateTitle((14+294)/2, "a", false);
rateTitle((403+683)/2, null, true);
{
  const g=svg.append("g").attr("transform",`translate(34,${(793+1073)/2}) rotate(-90)`);
  const t=g.append("text").attr("text-anchor","middle").attr("font-size",23).attr("fill","#111");
  t.append("tspan").attr("font-style","italic").text("P");
  t.append("tspan").text(" (W)");
}
// exponent label
{
  const t=svg.append("text").attr("x",64).attr("y",786).attr("font-size",18).attr("fill","#111");
  t.append("tspan").text("×10");
  t.append("tspan").attr("font-size",13).attr("dy",-8).text("4");
}

// legend
{
  const lg=svg.append("g");
  lg.append("rect").attr("x",670).attr("y",807).attr("width",198).attr("height",96)
    .attr("fill","#fff").attr("stroke",INK).attr("stroke-width",2.6);
  const rows=[821,843.5,866,888.5];
  const colors=[BLUE,ORANGE,YELLOW];
  legendLabels.forEach((lab,i)=>{
    if(i<3) lg.append("circle").attr("cx",702).attr("cy",rows[i]).attr("r",7).attr("fill",colors[i]);
    else lg.append("rect").attr("x",676).attr("y",rows[i]-8).attr("width",51).attr("height",16)
      .attr("fill","#00ff00").attr("fill-opacity",0.2);
    lg.append("text").attr("x",731).attr("y",rows[i]).attr("dy","0.36em")
      .style("font-family",SANS).attr("font-size",18).attr("fill","#111").text(lab);
  });
}
</script>
</body></html>
